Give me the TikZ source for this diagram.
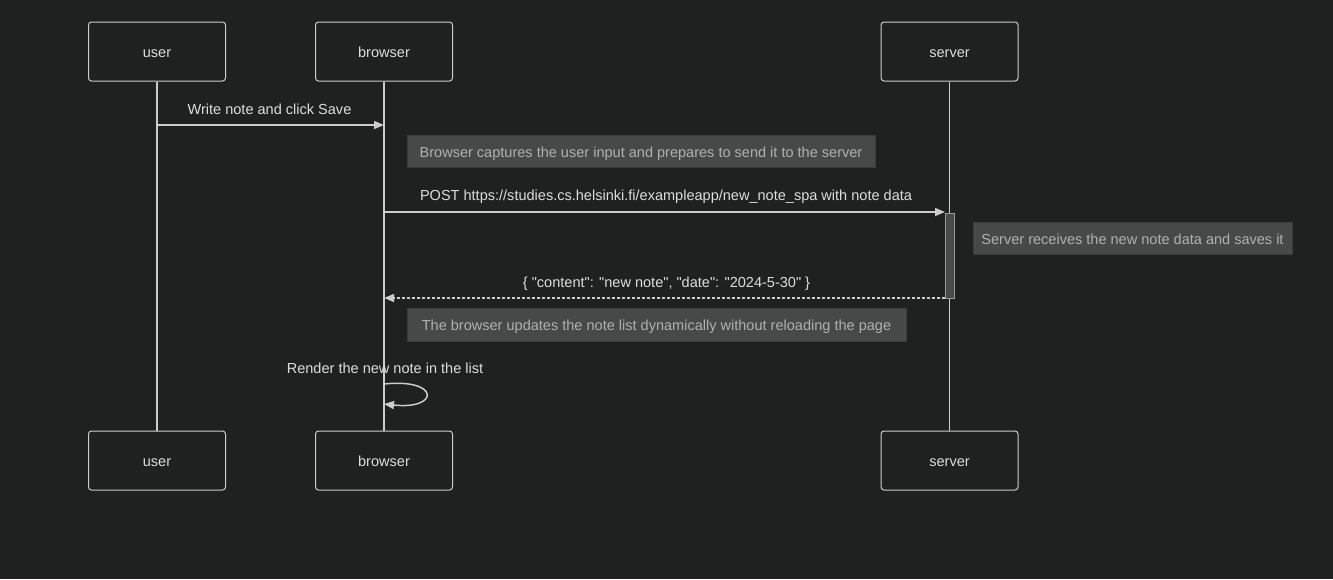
\documentclass[tikz,border=0pt]{standalone}
\usepackage{fontspec}
\setmainfont{Liberation Sans}
\usetikzlibrary{arrows.meta,positioning}
\definecolor{bgdark}{HTML}{1F2020}
\definecolor{linegray}{HTML}{CCCCCC}
\definecolor{notefill}{HTML}{474949}
\definecolor{noteborder}{HTML}{3A3C3C}
\definecolor{notetext}{HTML}{B0B0B0}
\definecolor{msgtext}{HTML}{DDDDDD}
\definecolor{actfill}{HTML}{484A4A}
\definecolor{actborder}{HTML}{999999}
\newcommand{\dq}{\textquotedbl}
\tikzset{
    actor/.style={
        draw=linegray, fill=bgdark, rounded corners=2.25pt,
        line width=0.75pt, minimum width=102.75pt, minimum height=44.25pt,
        text=msgtext
    },
    notebox/.style={
        draw=noteborder, fill=notefill, line width=0.75pt,
        minimum height=24pt, text=notetext, inner sep=0pt
    },
    lifeline/.style={draw=linegray, line width=1.1pt},
    msg/.style={
        draw=linegray, line width=1.1pt,
        -{Triangle[length=7.5pt,width=6pt]}
    },
    reply/.style={msg, dash pattern=on 2.25pt off 1.5pt},
    msglabel/.style={text=msgtext, inner sep=0pt}
}

\begin{document}
\begin{tikzpicture}[x=0.75pt, y=-0.75pt, font=\fontsize{10.9}{13}\selectfont,
    every node/.append style={text height=10pt, text depth=0.3pt}]
    \path[fill=bgdark, use as bounding box] (0,0) rectangle (1333,579);

    \node[actor] (userTop) at (157,51.5) {user};
    \node[actor] (browserTop) at (384,51.5) {browser};
    \node[actor] (serverTop) at (949.5,51.5) {server};
    \node[actor] (userBot) at (157,460.5) {user};
    \node[actor] (browserBot) at (384,460.5) {browser};
    \node[actor] (serverBot) at (949.5,460.5) {server};

    \draw[lifeline] (userTop) -- (userBot);
    \draw[lifeline] (browserTop) -- (browserBot);
    \draw[lifeline] (serverTop) -- (serverBot);

    \coordinate (saveFrom) at (157,125);
    \coordinate (saveTo) at (384,125);
    \draw[msg] (saveFrom) -- (saveTo);
    \node[msglabel] (saveLabel) at (269.5,107.8) {Write note and click Save};

    \node[notebox, minimum width=351pt] (captureNote) at (641,151)
        {Browser captures the user input and prepares to send it to the server};

    \coordinate (postFrom) at (384,212);
    \coordinate (postTo) at (945,212);
    \draw[msg] (postFrom) -- (postTo);
    \node[msglabel] (postLabel) at (666,193.8)
        {POST https://studies.cs.helsinki.fi/exampleapp/new\_note\_spa with note data};

    \coordinate (actTop) at (945,213);
    \coordinate (actBot) at (954,298);
    \draw[draw=actborder, fill=actfill, line width=0.75pt] (actTop) rectangle (actBot);

    \node[notebox, minimum width=239.25pt] (saveNote) at (1132.5,238)
        {Server receives the new note data and saves it};

    \coordinate (jsonFrom) at (945,298);
    \coordinate (jsonTo) at (384,298);
    \draw[reply] (jsonFrom) -- (jsonTo);
    \node[msglabel] (jsonLabel) at (666.5,280.8)
        {\{ \dq content\dq: \dq new note\dq, \dq date\dq: \dq 2024-5-30\dq\ \}};

    \node[notebox, minimum width=374.25pt, minimum height=24.75pt] (updateNote) at (656.5,324.5)
        {The browser updates the note list dynamically without reloading the page};

    \coordinate (renderFrom) at (384,384);
    \coordinate (renderTo) at (384,404);
    \draw[msg] (renderFrom) .. controls (440,378) and (440,410) .. (renderTo);
    \node[msglabel] (renderLabel) at (385,366.8) {Render the new note in the list};
\end{tikzpicture}
\end{document}
